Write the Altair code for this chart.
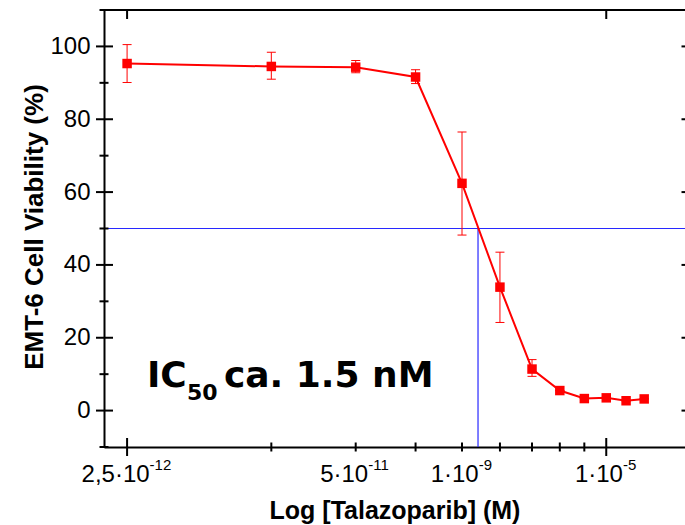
import altair as alt
import pandas as pd

# ---- data ----
x_pos = [1, 2, 3, 4, 5, 6, 7, 8, 9, 10, 11, 12]
viability = [95.3, 94.5, 94.3, 91.6, 62.4, 33.9, 11.4, 5.5, 3.3, 3.5, 2.7, 3.2]
err_low = [90.1, 91.0, 92.8, 89.8, 48.2, 24.2, 9.4, 5.5, 3.3, 3.5, 2.7, 3.2]
err_high = [100.5, 98.4, 96.1, 93.6, 76.5, 43.5, 14.0, 5.5, 3.3, 3.5, 2.7, 3.2]

x_label_pos = [1, 3, 5, 10]
x_label_base = ["2,5·10", "5·10", "1·10", "1·10"]
x_label_exp = ["-12", "-11", "-9", "-5"]
x_major = [1, 10]
x_minor = [2, 3, 4, 5, 6, 7, 8, 9]
y_major = [0, 20, 40, 60, 80, 100]
y_minor = [-10, 10, 30, 50, 70, 90, 110]

ic50_level = [50]
ic50_x = [5.4]
ann_x = [1.1]
ann_y = [6.5]

W, H = 581, 437
FONT = "Liberation Sans"
RED = "#FF0000"
BLUE = "#2828FF"

xscale = alt.Scale(type="log", domain=[0.895, 14.6], nice=False)
yscale = alt.Scale(domain=[-10, 110], nice=False, zero=False)

AX_X = alt.Axis(labels=False, ticks=False, grid=False, domainColor="black",
                domainWidth=2, title="Log [Talazoparib] (M)", titleFont=FONT,
                titleFontSize=25, titleFontWeight="bold", titleColor="black",
                titlePadding=51)
AX_Y = alt.Axis(values=y_major, ticks=False, grid=False, domainColor="black",
                domainWidth=2, labelFont=FONT, labelFontSize=24,
                labelColor="black", labelPadding=14,
                title="EMT-6 Cell Viability (%)", titleFont=FONT,
                titleFontSize=26, titleFontWeight="bold", titleColor="black",
                titleAngle=270, titleX=-62, titleY=H / 2 - 2,
                titleBaseline="alphabetic", titleAlign="center")

df = pd.DataFrame({"x": x_pos, "y": viability, "lo": err_low, "hi": err_high})


def X():
    return alt.X("x:Q", scale=xscale, axis=AX_X)


def Y(f="y"):
    return alt.Y(f + ":Q", scale=yscale, axis=AX_Y)


top_line = alt.Chart(pd.DataFrame({"x": [1]})).mark_rule(color="black", strokeWidth=2).encode(
    x=alt.value(0), x2=alt.value(W), y=alt.value(0))

xmaj_df = pd.DataFrame({"x": x_major})
xmin_df = pd.DataFrame({"x": x_minor})
ymaj_df = pd.DataFrame({"y": y_major})
ymin_df = pd.DataFrame({"y": y_minor})

tk = dict(color="black", strokeWidth=2)
ticks = [
    alt.Chart(xmaj_df).mark_rule(**tk).encode(x=X(), y=alt.value(H - 9), y2=alt.value(H + 9)),
    alt.Chart(xmin_df).mark_rule(**tk).encode(x=X(), y=alt.value(H - 4.5), y2=alt.value(H + 4.5)),
    alt.Chart(xmaj_df).mark_rule(**tk).encode(x=X(), y=alt.value(0), y2=alt.value(9)),
    alt.Chart(ymaj_df).mark_rule(**tk).encode(y=Y(), x=alt.value(-8), x2=alt.value(9)),
    alt.Chart(ymin_df).mark_rule(**tk).encode(y=Y(), x=alt.value(-4.5), x2=alt.value(4.5)),
    alt.Chart(ymaj_df).mark_rule(**tk).encode(y=Y(), x=alt.value(W - 3.5), x2=alt.value(W)),
]

# x tick labels with superscript exponents
widths = {"0": 556, "1": 556, "2": 556, "3": 556, "4": 556, "5": 556, "6": 556, "7": 556,
          "8": 556, "9": 556, ",": 278, "·": 278, "-": 333}
BFS, EFS = 24, 15


def tw(s, fs):
    return sum(widths.get(c, 556) for c in s) * fs / 1000.0


xlabels = []
lab_df = pd.DataFrame({"x": x_label_pos, "base": x_label_base, "exp": x_label_exp})
for i in range(len(x_label_pos)):
    wb = tw(x_label_base[i], BFS)
    we = tw(x_label_exp[i], EFS)
    shift = (wb - we) / 2.0
    sub = lab_df.iloc[[i]]
    xlabels.append(alt.Chart(sub).mark_text(font=FONT, fontSize=BFS, color="black", align="right",
                                            baseline="alphabetic", dx=shift).encode(
        x=X(), y=alt.value(H + 35), text="base:N"))
    xlabels.append(alt.Chart(sub).mark_text(font=FONT, fontSize=EFS, color="black", align="left",
                                            baseline="alphabetic", dx=shift).encode(
        x=X(), y=alt.value(H + 23), text="exp:N"))

# IC50 guide lines
hline = alt.Chart(pd.DataFrame({"y": ic50_level})).mark_rule(color=BLUE, strokeWidth=1.2).encode(
    y=Y(), x=alt.value(0), x2=alt.value(W))
vline = alt.Chart(pd.DataFrame({"x": ic50_x, "y": ic50_level, "y0": [-10]})).mark_rule(
    color=BLUE, strokeWidth=1.2).encode(x=X(), y=Y(), y2="y0:Q")

# data
err = alt.Chart(df).mark_rule(color=RED, strokeWidth=1).encode(x=X(), y=Y("lo"), y2="hi:Q")
cap_lo = alt.Chart(df).mark_tick(color=RED, thickness=1, size=9, orient="horizontal", opacity=1).encode(
    x=X(), y=Y("lo"))
cap_hi = alt.Chart(df).mark_tick(color=RED, thickness=1, size=9, orient="horizontal", opacity=1).encode(
    x=X(), y=Y("hi"))
line = alt.Chart(df).mark_line(color=RED, strokeWidth=2).encode(x=X(), y=Y())
pts = alt.Chart(df).mark_point(shape="square", filled=True, size=90, color=RED, opacity=1).encode(
    x=X(), y=Y())

# annotation
ann_df = pd.DataFrame({"x": ann_x, "y": ann_y, "a": ["IC"], "b": ["50"], "c": ["ca. 1.5 nM"]})
AFONT = "DejaVu Sans"
ann = [
    alt.Chart(ann_df).mark_text(font=AFONT, fontWeight="bold", fontSize=36, align="left",
                                baseline="alphabetic", color="black").encode(x=X(), y=Y(), text="a:N"),
    alt.Chart(ann_df).mark_text(font=AFONT, fontWeight="bold", fontSize=22, align="left",
                                baseline="alphabetic", color="black", dx=40, dy=13).encode(
        x=X(), y=Y(), text="b:N"),
    alt.Chart(ann_df).mark_text(font=AFONT, fontWeight="bold", fontSize=36, align="left",
                                baseline="alphabetic", color="black", dx=77).encode(
        x=X(), y=Y(), text="c:N"),
]

chart = alt.layer(
    hline, vline, top_line, *ticks, *xlabels, err, cap_lo, cap_hi, line, pts, *ann
).properties(
    width=W, height=H,
    autosize=alt.AutoSizeParams(type="none"),
    padding={"left": 104, "top": 10, "right": 0, "bottom": 78},
    background="white",
).configure_view(stroke=None)

chart.save("out.html", embed_options={"renderer": "svg", "actions": False})
